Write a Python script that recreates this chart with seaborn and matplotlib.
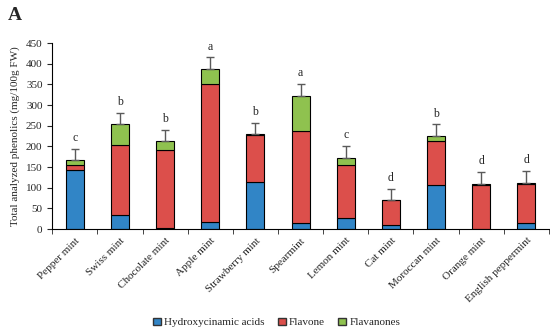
import numpy as np
import pandas as pd
import seaborn as sns
import matplotlib.pyplot as plt
from matplotlib.patches import Patch

# values (mg/100g FW)
varieties = ["Pepper mint", "Swiss mint", "Chocolate mint", "Apple mint", "Strawberry mint",
             "Spearmint", "Lemon mint", "Cat mint", "Moroccan mint", "Orange mint",
             "English peppermint"]
hydroxycinamic = [144, 35, 2, 18, 113, 14, 26, 11, 106, 1, 14]
flavone = [12, 168, 190, 334, 115, 223, 130, 59, 108, 105, 96]
flavanones = [10, 50, 20, 35, 2, 85, 17, 0, 11, 3, 2]
err_up = [27, 28, 28, 28, 27, 29, 28, 27, 28, 28, 28]
letters = ["c", "b", "b", "a", "b", "a", "c", "d", "b", "d", "d"]

colors = {"Hydroxycinamic acids": "#3185c6", "Flavone": "#dc4f4b", "Flavanones": "#8fc24f"}

sns.set_style("white")
plt.rcParams['font.family'] = ['Liberation Serif', 'DejaVu Serif']

df = pd.DataFrame({"variety": varieties, "hca": hydroxycinamic, "flv": flavone, "fln": flavanones})
df["b2"] = df["hca"] + df["flv"]
df["total"] = df["b2"] + df["fln"]

fig = plt.figure(figsize=(5.5, 3.31), dpi=100)
ax = fig.add_axes([0.095, 0.308, 0.903, 0.562])

sns.barplot(data=df, x="variety", y="hca", color=colors["Hydroxycinamic acids"], width=0.4,
            edgecolor="black", linewidth=0.8, ax=ax, saturation=1)
sns.barplot(data=df, x="variety", y="flv", bottom=df["hca"], color=colors["Flavone"], width=0.4,
            edgecolor="black", linewidth=0.8, ax=ax, saturation=1)
sns.barplot(data=df, x="variety", y="fln", bottom=df["b2"], color=colors["Flavanones"], width=0.4,
            edgecolor="black", linewidth=0.8, ax=ax, saturation=1)

xs = np.arange(len(varieties))
ax.errorbar(xs, df["total"], yerr=[np.zeros(len(xs)), err_up], fmt="none",
            ecolor="#5a5a5a", elinewidth=1, capsize=3)
for x, t, e, l in zip(xs, df["total"], err_up, letters):
    ax.text(x, t + e + 12, l, ha="center", va="bottom", fontsize=8.5)

ax.set_ylim(0, 450)
ax.set_xlim(-0.5, len(varieties) - 0.5)
ax.set_yticks(range(0, 451, 50))
ax.set_xticks(xs)
ax.set_xticklabels(varieties, rotation=45, ha="right", rotation_mode="anchor", fontsize=8)
ax.set_xticks(np.arange(-0.5, len(varieties), 1), minor=True)
ax.tick_params(axis="x", which="major", length=0, pad=5)
ax.tick_params(axis="x", which="minor", length=3.5, direction="out", bottom=True)
ax.tick_params(axis="y", length=3.5, direction="out", left=True, labelsize=8)
ax.set_xlabel("")
ax.set_ylabel("Total analyzed phenolics (mg/100g FW)", fontsize=8)
for s in ["top", "right"]:
    ax.spines[s].set_visible(False)
for s in ["left", "bottom"]:
    ax.spines[s].set_color("black")
    ax.spines[s].set_linewidth(0.8)

handles = [Patch(facecolor=c, edgecolor="#333333", label=k) for k, c in colors.items()]
fig.legend(handles=handles, loc="center", bbox_to_anchor=(0.503, 0.026), ncol=3, frameon=False,
           fontsize=8, handlelength=0.7, handleheight=0.7, handletextpad=0.3, columnspacing=1.2)

fig.text(0.015, 0.98, "A", fontsize=14, fontweight="bold", va="top", ha="left")

fig.savefig("out.png", dpi=100)
